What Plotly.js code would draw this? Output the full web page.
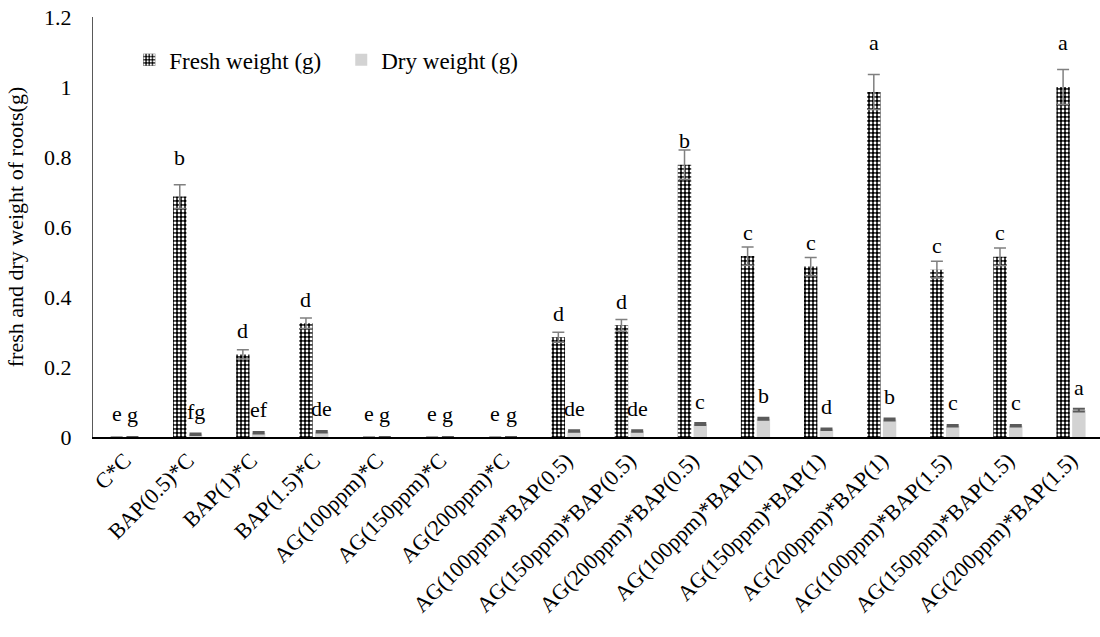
<!DOCTYPE html>
<html>
<head>
<meta charset="utf-8">
<script src="https://cdn.plot.ly/plotly-3.0.1.min.js"></script>
<style>
html,body{margin:0;padding:0;background:#fff;overflow:hidden;}
#chart{width:1100px;height:637px;}
</style>
</head>
<body>
<div id="chart"></div>
<script>
// ---- data ----
var categories = [
  "C*C","BAP(0.5)*C","BAP(1)*C","BAP(1.5)*C",
  "AG(100ppm)*C","AG(150ppm)*C","AG(200ppm)*C",
  "AG(100ppm)*BAP(0.5)","AG(150ppm)*BAP(0.5)","AG(200ppm)*BAP(0.5)",
  "AG(100ppm)*BAP(1)","AG(150ppm)*BAP(1)","AG(200ppm)*BAP(1)",
  "AG(100ppm)*BAP(1.5)","AG(150ppm)*BAP(1.5)","AG(200ppm)*BAP(1.5)"
];
var freshWeight = [0, 0.687, 0.236, 0.325, 0, 0, 0, 0.285, 0.319, 0.778, 0.517, 0.487, 0.986, 0.478, 0.515, 1.0];
var freshErr    = [0, 0.034, 0.013, 0.015, 0, 0, 0, 0.014, 0.017, 0.042, 0.026, 0.026, 0.05, 0.024, 0.025, 0.05];
var dryWeight   = [0, 0.008, 0.012, 0.015, 0, 0, 0, 0.017, 0.017, 0.037, 0.052, 0.022, 0.05, 0.032, 0.032, 0.077];
var dryErr      = [0, 0.002, 0.002, 0.002, 0, 0, 0, 0.002, 0.002, 0.003, 0.003, 0.002, 0.003, 0.002, 0.002, 0.004];
var freshLetters = ["e","b","d","d","e","e","e","d","d","b","c","c","a","c","c","a"];
var dryLetters   = ["g","fg","ef","de","g","g","g","de","de","c","b","d","b","c","c","a"];
var seriesNames = ["Fresh weight (g)", "Dry weight (g)"];
var yTitle = "fresh and dry weight of roots(g)";

// ---- style ----
var FONT = "Liberation Serif";
var slotHalf = 7.9;            // half of a bar slot in px (for letter placement)
var freshLabelShift = {1: 39, 12: 49, 15: 45};

var traces = [
  {
    type: "bar", name: seriesNames[0], x: categories, y: freshWeight,
    marker: {color: "#000000", line: {width: 0},
             pattern: {shape: ".", fillmode: "replace", bgcolor: "#000000", fgcolor: "#ffffff",
                       size: 4, solidity: 0.4}},
    error_y: {type: "data", array: freshErr, visible: true, color: "#808080", thickness: 1.5, width: 6}
  },
  {
    type: "bar", name: seriesNames[1], x: categories, y: dryWeight,
    marker: {color: "#d3d3d3", line: {width: 0}},
    error_y: {type: "data", array: dryErr, visible: true, color: "#5a5a5a", thickness: 2, width: 6}
  }
];

var annotations = [];
categories.forEach(function (c, i) {
  annotations.push({
    x: c, y: freshWeight[i], xref: "x", yref: "y", text: freshLetters[i], showarrow: false,
    xshift: -slotHalf, yshift: (freshLabelShift[i] || 24), yanchor: "middle", xanchor: "center",
    font: {family: FONT, size: 22, color: "#000"}
  });
  annotations.push({
    x: c, y: dryWeight[i], xref: "x", yref: "y", text: dryLetters[i], showarrow: false,
    xshift: slotHalf, yshift: 23, yanchor: "middle", xanchor: "center",
    font: {family: FONT, size: 22, color: "#000"}
  });
});

var layout = {
  width: 1100, height: 637,
  margin: {l: 93, r: 0, t: 17, b: 200, pad: 0},
  paper_bgcolor: "#ffffff", plot_bgcolor: "#ffffff",
  font: {family: FONT, size: 22, color: "#000"},
  barmode: "group", bargap: 0.5, bargroupgap: 0.15,
  showlegend: true,
  legend: {orientation: "h", x: 0.036, y: 0.898, xanchor: "left", yanchor: "middle",
           bgcolor: "rgba(0,0,0,0)", font: {family: FONT, size: 23, color: "#000"},
           entrywidth: 167, entrywidthmode: "pixels", traceorder: "normal"},
  xaxis: {
    type: "category", range: [-0.5, 15.46], autorange: false,
    showline: true, linecolor: "#000", linewidth: 2, showgrid: false, zeroline: false,
    ticks: "", tickangle: -45, tickfont: {family: FONT, size: 22, color: "#000"}, automargin: false
  },
  yaxis: {
    range: [0, 1.2], autorange: false, dtick: 0.2, tick0: 0,
    showline: true, linecolor: "#595959", linewidth: 1, showgrid: false, zeroline: false,
    ticks: "", ticklabelstandoff: 16, tickfont: {family: FONT, size: 22, color: "#000"},
    automargin: false,
    title: {text: yTitle, font: {family: FONT, size: 22, color: "#000"}, standoff: 14}
  },
  annotations: annotations
};

Plotly.newPlot("chart", traces, layout, {displayModeBar: false, staticPlot: true});
</script>
</body>
</html>
